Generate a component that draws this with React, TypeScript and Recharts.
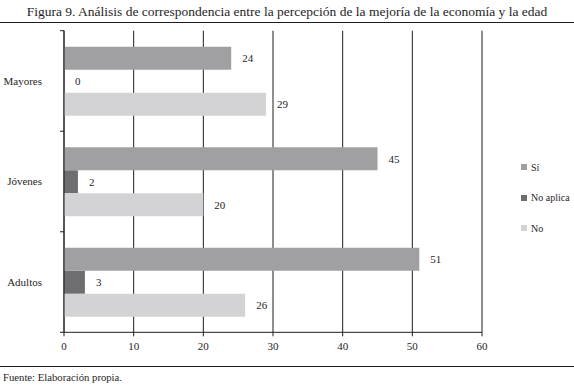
import { BarChart, Bar, XAxis, YAxis, CartesianGrid, LabelList } from 'recharts';

const groups = ['Mayores', 'Jóvenes', 'Adultos'];
const si = [24, 45, 51];
const noAplica = [0, 2, 3];
const no = [29, 20, 26];
const xTicks = [0, 10, 20, 30, 40, 50, 60];

const series = [
  { key: 'si', name: 'Sí', color: '#a0a0a3' },
  { key: 'noAplica', name: 'No aplica', color: '#6e6e70' },
  { key: 'no', name: 'No', color: '#d3d3d5' },
];

const data = groups.map((g, i) => ({ group: g, si: si[i], noAplica: noAplica[i], no: no[i] }));

const font = '"Liberation Serif", "Times New Roman", serif';
const ink = '#1e1e1e';

const ValueLabel = (props: any) => {
  const { x, y, width, height, value } = props;
  return (
    <text
      x={Number(x) + Number(width) + 11}
      y={Number(y) + Number(height) / 2}
      dy="0.36em"
      fontSize={11}
      fontFamily={font}
      fill={ink}
    >
      {value}
    </text>
  );
};

// category label at the band centre, tick marks on the band edges
const GroupTick = (props: any) => {
  const { x, y, payload, index, visibleTicksCount } = props;
  const half = payload.offset || 0;
  const axisX = Number(x) + 22;
  return (
    <g>
      <line x1={axisX - 4} x2={axisX} y1={y - half} y2={y - half} stroke={ink} />
      {index === visibleTicksCount - 1 && (
        <line x1={axisX - 4} x2={axisX} y1={y + half} y2={y + half} stroke={ink} />
      )}
      <text x={x} y={y} dy="0.36em" textAnchor="end" fontSize={11} fontFamily={font} fill={ink}>
        {payload.value}
      </text>
    </g>
  );
};

export default function App() {
  return (
    <div style={{ position: 'absolute', left: 0, top: 0, width: 574, height: 388, background: '#fff', fontFamily: font, color: ink }}>
      <div style={{ position: 'absolute', left: 0, top: 3, width: 574, textAlign: 'center', fontSize: 13.5, lineHeight: '18px', whiteSpace: 'nowrap' }}>
        Figura 9. Análisis de correspondencia entre la percepción de la mejoría de la economía y la edad
      </div>
      <div style={{ position: 'absolute', left: 0, top: 22, width: 574, height: 1.3, background: ink }} />
      <BarChart
        width={574}
        height={388}
        data={data}
        layout="vertical"
        barGap={0}
        barCategoryGap="16%"
        margin={{ top: 30.7, right: 92, bottom: 25.7, left: 0 }}
        style={{ position: 'absolute', left: 0, top: 0 }}
      >
        <CartesianGrid horizontal={false} stroke={ink} strokeWidth={1} strokeOpacity={1} />
        <XAxis
          type="number"
          domain={[0, 60]}
          ticks={xTicks}
          tickSize={4}
          tickMargin={6}
          stroke={ink}
          tick={{ fontSize: 11, fontFamily: font, fill: ink }}
        />
        <YAxis
          type="category"
          dataKey="group"
          width={64}
          tickLine={false}
          stroke={ink}
          tickSize={0}
          tickMargin={22}
          tick={GroupTick}
        />
        {series.map((s) => (
          <Bar key={s.key} dataKey={s.key} name={s.name} fill={s.color} minPointSize={0.001} isAnimationActive={false}>
            <LabelList dataKey={s.key} content={ValueLabel} />
          </Bar>
        ))}
      </BarChart>
      <div style={{ position: 'absolute', left: 521, top: 152 }}>
        {series.map((s) => (
          <div key={s.key} style={{ display: 'flex', alignItems: 'center', height: 30.5, fontSize: 10 }}>
            <span style={{ width: 6, height: 6, background: s.color, marginRight: 4, display: 'inline-block' }} />
            <span>{s.name}</span>
          </div>
        ))}
      </div>
      <div style={{ position: 'absolute', left: 0, top: 366, width: 574, height: 1.3, background: ink }} />
      <div style={{ position: 'absolute', left: 3, top: 371, fontSize: 10.7, lineHeight: '13px', whiteSpace: 'nowrap' }}>
        Fuente: Elaboración propia.
      </div>
    </div>
  );
}
